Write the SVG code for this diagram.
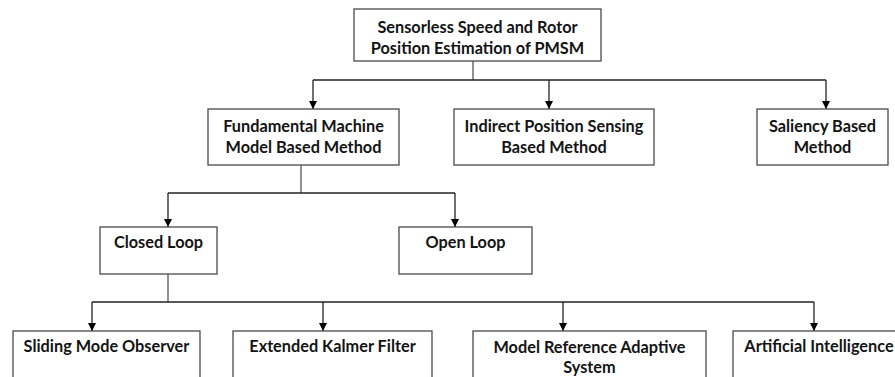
<svg xmlns="http://www.w3.org/2000/svg" width="895" height="377" viewBox="0 0 895 377">
  <style>
    .box { fill: #ffffff; stroke: #4a4a4a; stroke-width: 1.3; }
    .lbl { font-family: Lato, "Open Sans", "Liberation Sans", sans-serif; font-weight: bold; font-size: 16.3px; fill: #141414; text-anchor: middle; }
    .stem { fill: none; stroke: #555555; stroke-width: 1.3; }
    .bus { fill: none; stroke: #222222; stroke-width: 1.3; }
    .drop { fill: none; stroke: #222222; stroke-width: 1.3; marker-end: url(#arrow); }
  </style>
  <defs>
    <marker id="arrow" viewBox="0 0 10 10" refX="10" refY="5" markerWidth="8" markerHeight="8" markerUnits="userSpaceOnUse" orient="auto">
      <path d="M0,0 L10,5 L0,10 Z" fill="#000000"/>
    </marker>
  </defs>
  <rect width="895" height="377" fill="#ffffff"/>

  <g id="connectors">
    <!-- root to level 1 -->
    <path class="stem" d="M473,61 V80"/>
    <path class="bus" d="M313,80 H826"/>
    <path class="drop" d="M313,80 V109"/>
    <path class="drop" d="M549,80 V109"/>
    <path class="drop" d="M826,80 V109"/>
    <!-- fundamental to loops -->
    <path class="stem" d="M301,165 V193"/>
    <path class="bus" d="M168,193 H455"/>
    <path class="drop" d="M168,193 V227"/>
    <path class="drop" d="M455,193 V227"/>
    <!-- closed loop to methods -->
    <path class="stem" d="M168,274 V302"/>
    <path class="bus" d="M92,302 H814"/>
    <path class="drop" d="M92,302 V331"/>
    <path class="drop" d="M323,302 V331"/>
    <path class="drop" d="M563,302 V331"/>
    <path class="drop" d="M814,302 V331"/>
  </g>

  <g id="root">
    <rect class="box" x="354" y="9" width="247" height="52"/>
    <text class="lbl" x="477.5" y="33">Sensorless Speed and Rotor</text>
    <text class="lbl" x="477.5" y="54">Position Estimation of PMSM</text>
  </g>

  <g id="fundamental">
    <rect class="box" x="208" y="109" width="191" height="56"/>
    <text class="lbl" x="303.5" y="132">Fundamental Machine</text>
    <text class="lbl" x="303.5" y="153">Model Based Method</text>
  </g>

  <g id="indirect">
    <rect class="box" x="454" y="109" width="200" height="56"/>
    <text class="lbl" x="554" y="132">Indirect Position Sensing</text>
    <text class="lbl" x="554" y="153">Based Method</text>
  </g>

  <g id="saliency">
    <rect class="box" x="757" y="109" width="131" height="56"/>
    <text class="lbl" x="822.5" y="132">Saliency Based</text>
    <text class="lbl" x="822.5" y="153">Method</text>
  </g>

  <g id="closed-loop">
    <rect class="box" x="100" y="227" width="117" height="47"/>
    <text class="lbl" x="158.5" y="248">Closed Loop</text>
  </g>

  <g id="open-loop">
    <rect class="box" x="399" y="227" width="133" height="47"/>
    <text class="lbl" x="465.5" y="248">Open Loop</text>
  </g>

  <g id="sliding-mode">
    <rect class="box" x="13" y="331" width="187" height="60"/>
    <text class="lbl" x="106.5" y="352">Sliding Mode Observer</text>
  </g>

  <g id="kalman">
    <rect class="box" x="233" y="331" width="199" height="60"/>
    <text class="lbl" x="332.5" y="352">Extended Kalmer Filter</text>
  </g>

  <g id="mras">
    <rect class="box" x="473" y="331" width="233" height="60"/>
    <text class="lbl" x="589.5" y="353">Model Reference Adaptive</text>
    <text class="lbl" x="589.5" y="373">System</text>
  </g>

  <g id="ai">
    <rect class="box" x="733" y="331" width="172" height="60"/>
    <text class="lbl" x="819" y="352">Artificial Intelligence</text>
  </g>
</svg>
